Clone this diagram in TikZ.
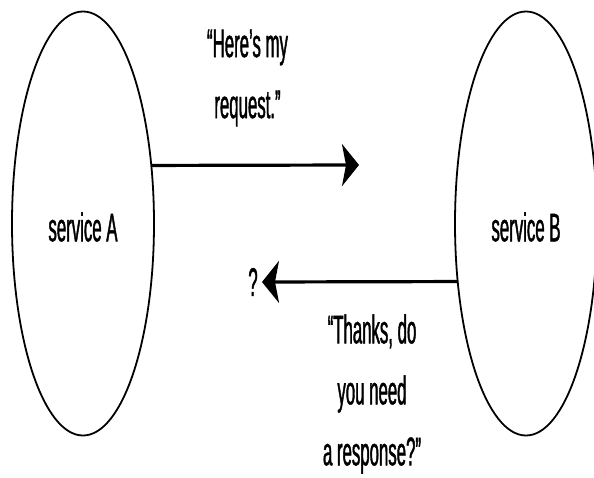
\documentclass[tikz,border=0pt]{standalone}
\usepackage{fontspec}
\usetikzlibrary{shapes.geometric,arrows.meta}
\newfontfamily\condsans[FakeStretch=0.42, FakeBold=1]{Liberation Sans}
\tikzset{
  service/.style={ellipse, draw, line width=1.8pt, inner sep=0pt,
    minimum width=142pt, minimum height=424pt,
    font=\condsans\fontsize{40}{60}\selectfont, text height=36pt},
  msg/.style={line width=3.2pt,
    -{Stealth[length=17pt, width=42pt, inset=4pt]}},
  say/.style={align=center, inner sep=0pt,
    font=\condsans\fontsize{40}{61}\selectfont}
}
\begin{document}
\begin{tikzpicture}[x=1pt, y=-1pt]
  \useasboundingbox (0,0) rectangle (594,478);
  \clip (0,0) rectangle (594,478);
  % the two services
  \node[service] (a) at (83,223.5) {service A};
  \node[service] (b) at (526,223.5) {service B};
  % request from A to B
  \coordinate (reqend) at (359,165);
  \draw[msg] (a.40.6) -- (reqend);
  \node[say] (req) at (247.5,78) {“Here’s my\\request.”};
  % reply from B, going nowhere in particular
  \node[inner sep=0pt, font=\condsans\fontsize{40}{48}\selectfont] (q) at (253,282) {?};
  \coordinate (repend) at (262,282);
  \draw[msg] (b.220.6) -- (repend);
  \node[say, font=\condsans\fontsize{40}{61}\selectfont] (rep) at (372,394) {“Thanks, do\\you need\\a response?”};
\end{tikzpicture}
\end{document}
